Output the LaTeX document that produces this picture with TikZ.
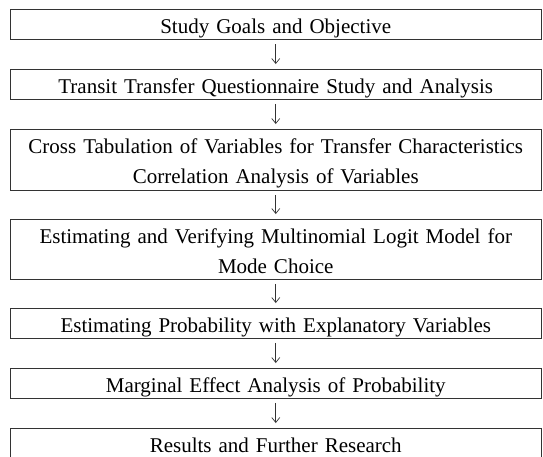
\documentclass[tikz,border=0pt]{standalone}
\usepackage{fontspec}
\setmainfont{Liberation Serif}
\usetikzlibrary{arrows.meta}
\newcommand\flowboxfont{\fontsize{21}{30}\selectfont\spaceskip 9pt plus 1pt minus 1pt\relax}
\begin{document}
\begin{tikzpicture}[x=1pt,y=-1pt,
  box/.style={draw=black!80, line width=0.9pt, minimum width=531.5pt,
    text width=528pt, align=center, inner sep=0pt,
    text height=24pt, text depth=6pt,
    font=\flowboxfont},
  twoline/.style={text depth=36pt},
  flow/.style={-{Straight Barb[length=5pt,width=8pt]}, line width=0.7pt,
    draw=black!80, shorten <=4.5pt, shorten >=4.5pt}]
\useasboundingbox (0,0) rectangle (543,456);
\clip (0,0) rectangle (543,456);
\fill[white] (0,0) rectangle (543,456);
\node[box, minimum height=30.5pt] (b1) at (275.75,24.25) {Study Goals and Objective};
\node[box, minimum height=30pt] (b2) at (275.75,84) {Transit Transfer Questionnaire Study and Analysis};
\node[box, twoline, minimum height=61pt] (b3) at (275.75,159.5) {Cross Tabulation of Variables for Transfer Characteristics\\Correlation Analysis of Variables};
\node[box, twoline, minimum height=58pt] (b4) at (275.75,249) {Estimating and Verifying Multinomial Logit Model for\\Mode Choice};
\node[box, minimum height=30pt] (b5) at (275.75,323) {Estimating Probability with Explanatory Variables};
\node[box, minimum height=30pt] (b6) at (275.75,383) {Marginal Effect Analysis of Probability};
\node[box, minimum height=30pt] (b7) at (275.75,443) {Results and Further Research};
\draw[flow] (b1) -- (b2);
\draw[flow] (b2) -- (b3);
\draw[flow] (b3) -- (b4);
\draw[flow] (b4) -- (b5);
\draw[flow] (b5) -- (b6);
\draw[flow] (b6) -- (b7);
\end{tikzpicture}
\end{document}
